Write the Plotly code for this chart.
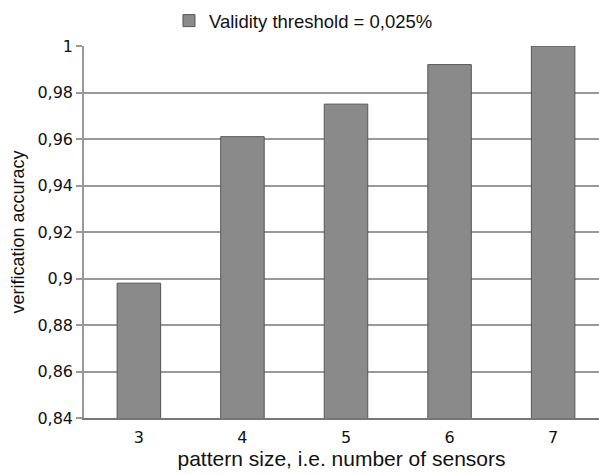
import plotly.graph_objects as go

categories = ["3", "4", "5", "6", "7"]
accuracy = [0.898, 0.961, 0.975, 0.992, 1.0]
series_name = "Validity threshold = 0,025%"
y_tick_values = [0.84, 0.86, 0.88, 0.90, 0.92, 0.94, 0.96, 0.98, 1.0]
y_tick_labels = ["0,84", "0,86", "0,88", "0,9", "0,92", "0,94", "0,96", "0,98", "1"]

fig = go.Figure()
fig.add_trace(go.Bar(
    x=categories,
    y=accuracy,
    name=series_name,
    marker=dict(color="#8a8a8a", line=dict(color="#555555", width=1)),
    showlegend=True,
))

fig.update_layout(
    width=599,
    height=474,
    margin=dict(l=84, r=0, t=46, b=56, autoexpand=False),
    paper_bgcolor="white",
    plot_bgcolor="white",
    bargap=0.58,
    separators=",.",
    font=dict(family="Liberation Sans, Arial, sans-serif", color="#111111"),
    legend=dict(
        orientation="h",
        x=0.165, xanchor="left",
        y=1.067, yanchor="middle",
        font=dict(size=18.5, family="Liberation Sans, Arial, sans-serif"),
        bgcolor="rgba(0,0,0,0)",
    ),
    xaxis=dict(
        type="category",
        range=[-0.53, 4.443],
        automargin=False,
        showgrid=False,
        showline=True,
        linecolor="#777777",
        linewidth=1.5,
        ticks="",
        ticklabelstandoff=4,
        tickfont=dict(size=16, family="DejaVu Sans, sans-serif", color="#111111"),
        title=dict(text="pattern size, i.e. number of sensors",
                   font=dict(size=21, family="Liberation Sans, Arial, sans-serif"),
                   standoff=2),
    ),
    yaxis=dict(
        range=[0.84, 1.0],
        automargin=False,
        tickvals=y_tick_values,
        ticktext=y_tick_labels,
        showgrid=True,
        gridcolor="#999999",
        gridwidth=1.5,
        showline=True,
        linecolor="#999999",
        linewidth=1.5,
        ticks="outside",
        ticklen=6,
        tickcolor="#999999",
        tickwidth=1.5,
        zeroline=False,
        tickfont=dict(size=16, family="DejaVu Sans, sans-serif", color="#111111"),
        title=dict(text="verification accuracy",
                   font=dict(size=18, family="Liberation Sans, Arial, sans-serif"),
                   standoff=8),
    ),
)

fig.write_html(
    "out.html",
    config={"displayModeBar": False},
    post_script="document.body.style.margin='0';document.body.style.overflow='hidden';",
)
